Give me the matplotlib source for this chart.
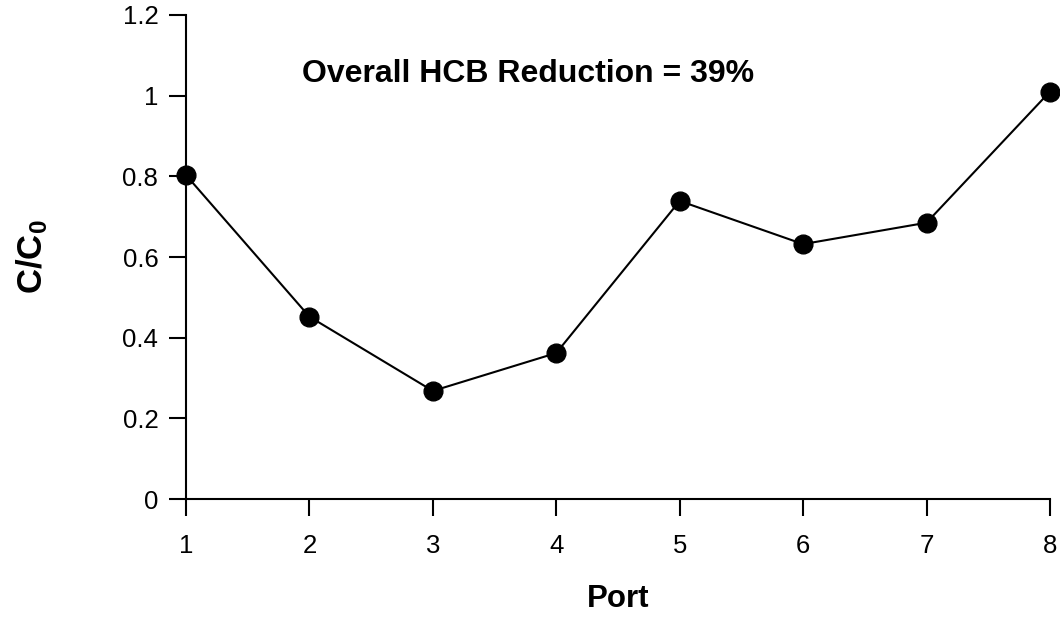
import matplotlib
matplotlib.use("Agg")
import matplotlib.pyplot as plt

# values
ports = [1, 2, 3, 4, 5, 6, 7, 8]
c_over_c0 = [0.803, 0.452, 0.268, 0.362, 0.739, 0.632, 0.685, 1.010]
x_ticks = [1, 2, 3, 4, 5, 6, 7, 8]
y_ticks = [0, 0.2, 0.4, 0.6, 0.8, 1.0, 1.2]
y_tick_labels = ["0", "0.2", "0.4", "0.6", "0.8", "1", "1.2"]
note = "Overall HCB Reduction = 39%"

plt.rcParams.update({
    "font.family": "Liberation Sans",
    "mathtext.fontset": "custom",
    "mathtext.rm": "Liberation Sans",
    "mathtext.bf": "Liberation Sans:bold",
})

fig = plt.figure(figsize=(10.6, 6.17), dpi=100)
ax = fig.add_axes([0.1755, 0.1912, 0.815, 0.7845])

ax.plot(ports, c_over_c0, color="black", lw=1.5, marker="o", ms=13.5,
        mfc="black", mec="black", clip_on=False, zorder=3)

ax.set_xlim(1, 8)
ax.set_ylim(0, 1.2)
ax.set_xticks(x_ticks)
ax.set_yticks(y_ticks)
ax.set_yticklabels(y_tick_labels)

for side in ("top", "right"):
    ax.spines[side].set_visible(False)
for side in ("left", "bottom"):
    ax.spines[side].set_linewidth(1.5)

ax.tick_params(axis="both", direction="out", length=12, width=1.5,
               labelsize=18.5, color="black")
ax.tick_params(axis="x", pad=13)
ax.tick_params(axis="y", pad=8)

ax.set_xlabel("Port", fontsize=22.5, fontweight="bold", labelpad=19)
ax.set_ylabel(r"$\mathbf{C/C_0}$", fontsize=25, labelpad=52)

ax.text(1.94, 1.034, note, fontsize=23, fontweight="bold",
        ha="left", va="baseline")

fig.savefig("out.png", dpi=100)
